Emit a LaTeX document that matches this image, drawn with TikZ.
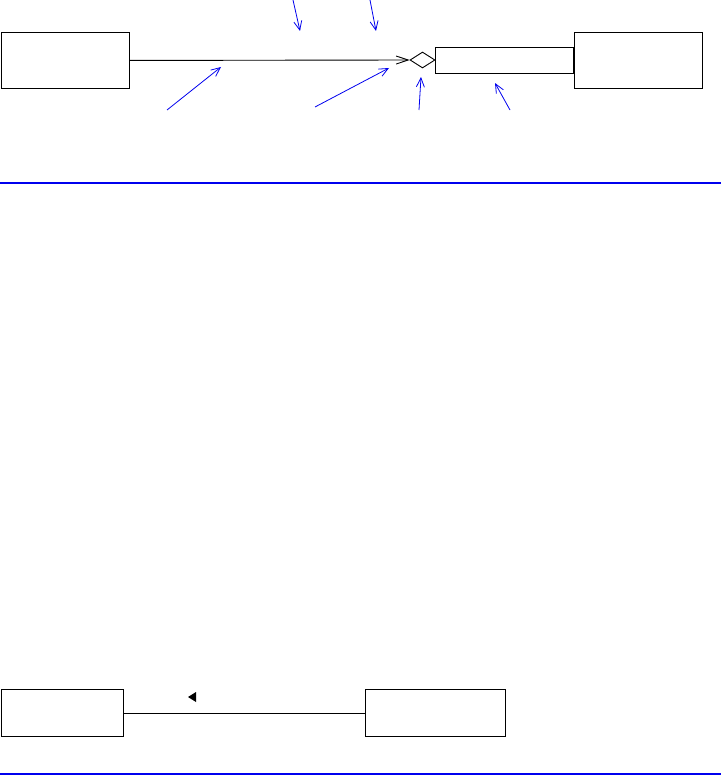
\documentclass[tikz,border=0pt]{standalone}
\usetikzlibrary{arrows.meta,positioning,shapes.geometric}
\definecolor{NoteBlue}{HTML}{0000EE}

\begin{document}
\begin{tikzpicture}[x=1pt,y=-1pt,node distance=0pt,
    cls/.style={draw,line width=0.9pt,inner sep=0pt},
    note/.style={-{Straight Barb[length=9pt,width=8pt]},NoteBlue,line width=0.8pt},
    rule/.style={NoteBlue,line width=2pt}]
    \useasboundingbox (0,0) rectangle (721,776);
    % upper association with qualifier
    \node[cls,anchor=north west,minimum width=128pt,minimum height=56pt] (whole) at (1,32) {};
    \node[cls,diamond,minimum width=25pt,minimum height=16pt] (agg) at (422.5,60) {};
    \node[cls,right=of agg,minimum width=138pt,minimum height=26pt] (qual) {};
    \node[cls,right=of qual,minimum width=128pt,minimum height=56pt] (part) {};
    \draw[line width=0.9pt,-{Straight Barb[length=12pt,width=8pt]}] (whole.east)--(agg.west);
    % pointers
    \coordinate (p1a) at (293,0);   \coordinate (p1b) at (300,31);
    \coordinate (p2a) at (370,0);   \coordinate (p2b) at (376,31);
    \coordinate (p3a) at (167,110); \coordinate (p3b) at (221,67);
    \coordinate (p4a) at (315,107); \coordinate (p4b) at (389,68);
    \coordinate (p5a) at (419,110); \coordinate (p5b) at (421,77);
    \coordinate (p6a) at (510,110); \coordinate (p6b) at (495,83);
    \draw[note] (p1a)--(p1b);
    \draw[note] (p2a)--(p2b);
    \draw[note] (p3a)--(p3b);
    \draw[note] (p4a)--(p4b);
    \draw[note] (p5a)--(p5b);
    \draw[note] (p6a)--(p6b);
    \coordinate (r1a) at (0,183); \coordinate (r1b) at (721,183);
    \draw[rule] (r1a)--(r1b);
    % lower association
    \node[cls,anchor=north west,minimum width=122pt,minimum height=47pt] (left) at (1,689) {};
    \node[cls,anchor=north west,minimum width=140pt,minimum height=47pt] (right) at (365,689) {};
    \draw[line width=0.9pt] (left.east)--(right.west);
    \fill (188,697)--(196,692)--(196,702)--cycle;
    \coordinate (r2a) at (0,774); \coordinate (r2b) at (721,774);
    \draw[rule] (r2a)--(r2b);
\end{tikzpicture}
\end{document}
